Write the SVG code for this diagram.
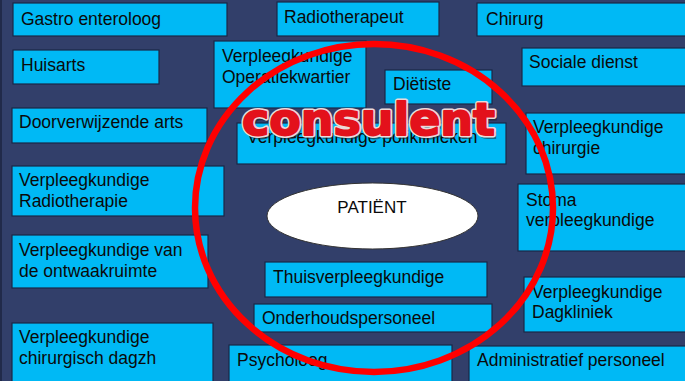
<svg xmlns="http://www.w3.org/2000/svg" width="685" height="381" viewBox="0 0 685 381">
<style>
.b{fill:#00b9f5;stroke:#1a2746;stroke-width:1.2}
.t{font-family:"Liberation Sans",Arial,sans-serif;font-size:17.5px;fill:#0a0a0a}
.c{font-family:"DejaVu Sans",sans-serif;font-weight:bold;font-size:45px}
</style>
<rect x="0" y="0" width="685" height="381" fill="#323f6a"/>
<line x1="1" y1="0" x2="1" y2="381" stroke="#1c2440" stroke-width="1.5"/>
<g id="gastro"><rect class="b" x="13" y="3" width="214" height="33"/><text class="t" x="21" y="25">Gastro enteroloog</text></g>
<g id="huisarts"><rect class="b" x="13" y="50" width="146" height="34"/><text class="t" x="21" y="71">Huisarts</text></g>
<g id="doorverwijzende"><rect class="b" x="12" y="108" width="195" height="35"/><text class="t" x="19" y="128">Doorverwijzende arts</text></g>
<g id="radiotherapeut"><rect class="b" x="277" y="2" width="162" height="34"/><text class="t" x="284" y="23">Radiotherapeut</text></g>
<g id="chirurg"><rect class="b" x="477" y="3" width="215" height="33"/><text class="t" x="486" y="25">Chirurg</text></g>
<g id="operatiekwartier"><rect class="b" x="214" y="41" width="152" height="67"/><text class="t" x="222" y="62">Verpleegkundige</text><text class="t" x="222" y="83">Operatiekwartier</text></g>
<g id="dietiste"><rect class="b" x="385" y="70" width="107" height="34"/><text class="t" x="393" y="90">Diëtiste</text></g>
<g id="poliklinieken"><rect class="b" x="237" y="123" width="269" height="41"/><text class="t" x="247" y="143">Verpleegkundige poliklinieken</text></g>
<g id="sociale"><rect class="b" x="522" y="48" width="170" height="38"/><text class="t" x="529" y="68">Sociale dienst</text></g>
<g id="vpchirurgie"><rect class="b" x="526" y="113" width="166" height="61"/><text class="t" x="533" y="133">Verpleegkundige</text><text class="t" x="533" y="154">chirurgie</text></g>
<g id="vpradiotherapie"><rect class="b" x="12" y="166" width="212" height="50"/><text class="t" x="19" y="186">Verpleegkundige</text><text class="t" x="19" y="207">Radiotherapie</text></g>
<g id="ontwaakruimte"><rect class="b" x="12" y="235" width="196" height="53"/><text class="t" x="19" y="256">Verpleegkundige van</text><text class="t" x="19" y="277">de ontwaakruimte</text></g>
<g id="dagzh"><rect class="b" x="12" y="323" width="201" height="70"/><text class="t" x="19" y="343">Verpleegkundige</text><text class="t" x="19" y="364">chirurgisch dagzh</text></g>
<g id="stoma"><rect class="b" x="518" y="184" width="174" height="67"/><text class="t" x="526" y="206">Stoma</text><text class="t" x="526" y="226">verpleegkundige</text></g>
<g id="dagkliniek"><rect class="b" x="524" y="277" width="168" height="55"/><text class="t" x="532" y="298">Verpleegkundige</text><text class="t" x="532" y="318">Dagkliniek</text></g>
<g id="thuis"><rect class="b" x="265" y="262" width="222" height="35"/><text class="t" x="273" y="283">Thuisverpleegkundige</text></g>
<g id="onderhoud"><rect class="b" x="254" y="304" width="238" height="28"/><text class="t" x="262" y="324">Onderhoudspersoneel</text></g>
<g id="psycholoog"><rect class="b" x="229" y="345" width="223" height="50"/><text class="t" x="237" y="366">Psycholoog</text></g>
<g id="administratief"><rect class="b" x="469" y="346" width="223" height="50"/><text class="t" x="477" y="366">Administratief personeel</text></g>
<g id="patient"><ellipse cx="372.5" cy="216" rx="105.5" ry="33" fill="#ffffff" stroke="#333" stroke-width="1"/><text x="372" y="213" text-anchor="middle" font-family="Liberation Sans, Arial, sans-serif" font-size="17" fill="#0a0a0a">PATIËNT</text></g>
<g id="connectors"></g>
<g id="consulent-ring">
<ellipse cx="374" cy="208" rx="179" ry="164" fill="none" stroke="#ff0000" stroke-width="6.5"/>
<text class="c" x="244" y="138" textLength="253" lengthAdjust="spacingAndGlyphs" fill="#1e1e1e" stroke="#1e1e1e" stroke-width="2" opacity="0.5">consulent</text>
<text class="c" x="242" y="135" textLength="253" lengthAdjust="spacingAndGlyphs" fill="none" stroke="#eadada" stroke-width="5" stroke-linejoin="round">consulent</text>
<text class="c" x="242" y="135" textLength="253" lengthAdjust="spacingAndGlyphs" fill="#e3111b" stroke="#e3111b" stroke-width="1.8" stroke-linejoin="round">consulent</text>
</g>
</svg>
